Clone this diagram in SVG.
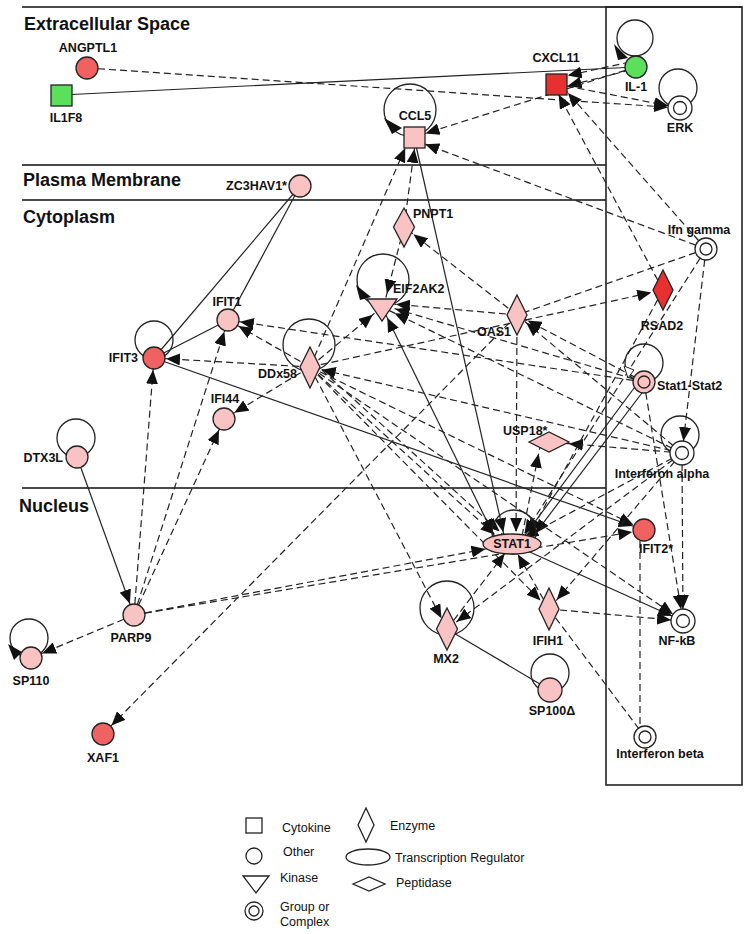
<svg xmlns="http://www.w3.org/2000/svg" width="751" height="934" viewBox="0 0 751 934">
<style>
.sec{stroke:#4a4a4a;stroke-width:2;fill:none}
.hd{font-family:"Liberation Sans",Arial,sans-serif;font-weight:bold;font-size:18px;fill:#111}
.lb{font-family:"Liberation Sans",Arial,sans-serif;font-weight:bold;font-size:12.5px;fill:#111}
.lg{font-family:"Liberation Sans",Arial,sans-serif;font-size:12.5px;fill:#111}
.s{stroke:#222;stroke-width:1.2;fill:none}
.d{stroke:#222;stroke-width:1.2;fill:none;stroke-dasharray:7,4}
.n{stroke:#222;stroke-width:1.3}
.loop{stroke:#222;stroke-width:1.3;fill:none}
.pk{fill:#f9c3c3}.rd{fill:#f06262}.br{fill:#e83030}.gr{fill:#5ce05c}.wh{fill:#fff}
.ah{fill:#111}
</style>
<defs>
<marker id="a" viewBox="0 0 14 12" refX="26" refY="6" markerWidth="14" markerHeight="12" markerUnits="userSpaceOnUse" orient="auto"><path d="M0,0L14,6L0,12z" fill="#111"/></marker>
<marker id="a14" viewBox="0 0 14 12" refX="28" refY="6" markerWidth="14" markerHeight="12" markerUnits="userSpaceOnUse" orient="auto"><path d="M0,0L14,6L0,12z" fill="#111"/></marker>
<marker id="a20" viewBox="0 0 14 12" refX="34" refY="6" markerWidth="14" markerHeight="12" markerUnits="userSpaceOnUse" orient="auto"><path d="M0,0L14,6L0,12z" fill="#111"/></marker>
<marker id="a27" viewBox="0 0 14 12" refX="41" refY="6" markerWidth="14" markerHeight="12" markerUnits="userSpaceOnUse" orient="auto"><path d="M0,0L14,6L0,12z" fill="#111"/></marker>
<marker id="as" viewBox="0 0 14 12" refX="26" refY="6" markerWidth="14" markerHeight="12" markerUnits="userSpaceOnUse" orient="auto-start-reverse"><path d="M0,0L14,6L0,12z" fill="#111"/></marker>
</defs>

<g id="compartments">
<line class="sec" x1="22" y1="7" x2="742" y2="7"/>
<line class="sec" x1="22" y1="165" x2="606" y2="165"/>
<line class="sec" x1="22" y1="200" x2="606" y2="200"/>
<line class="sec" x1="22" y1="488" x2="606" y2="488"/>
<rect x="606" y="7" width="136" height="778" fill="none" stroke="#222" stroke-width="1.6"/>
<text class="hd" x="24" y="30">Extracellular Space</text>
<text class="hd" x="23" y="186">Plasma Membrane</text>
<text class="hd" x="23" y="223">Cytoplasm</text>
<text class="hd" x="19" y="512">Nucleus</text>
</g>

<g id="connectors">
<line class="s" x1="61" y1="95" x2="636" y2="67"/>
<line class="s" x1="300" y1="186" x2="154" y2="358"/>
<line class="s" x1="300" y1="186" x2="228" y2="320"/>
<line class="s" x1="154" y1="358" x2="228" y2="320"/>
<line class="s" x1="154" y1="358" x2="644" y2="530" marker-end="url(#a)"/>
<line class="s" x1="414" y1="137" x2="506" y2="544" marker-end="url(#a)"/>
<line class="s" x1="382" y1="307" x2="498" y2="544" marker-start="url(#as)" marker-end="url(#a)"/>
<line class="s" x1="640" y1="380" x2="520" y2="542" marker-end="url(#a)"/>
<line class="s" x1="648" y1="385" x2="528" y2="543" marker-end="url(#a)"/>
<line class="s" x1="512" y1="544" x2="683" y2="621" marker-end="url(#a)"/>
<line class="s" x1="447" y1="629" x2="550" y2="690"/>
<line class="s" x1="77" y1="457" x2="134" y2="615" marker-end="url(#a)"/>
<line class="d" x1="87" y1="68" x2="680" y2="108" marker-end="url(#a)"/>
<line class="d" x1="556" y1="84" x2="680" y2="108" marker-end="url(#a)"/>
<line class="d" x1="630" y1="62" x2="556" y2="78" marker-end="url(#a)"/>
<line class="d" x1="630" y1="70" x2="556" y2="89" marker-end="url(#a)"/>
<line class="d" x1="636" y1="67" x2="414" y2="137" marker-end="url(#a)"/>
<line class="d" x1="706" y1="249" x2="414" y2="140" marker-end="url(#a)"/>
<line class="d" x1="706" y1="249" x2="560" y2="84" marker-end="url(#a)"/>
<line class="d" x1="663" y1="290" x2="553" y2="84" marker-end="url(#a)"/>
<line class="d" x1="310" y1="367" x2="410" y2="137" marker-end="url(#a)"/>
<line class="d" x1="404" y1="227" x2="416" y2="137" marker-end="url(#a)"/>
<line class="d" x1="404" y1="227" x2="384" y2="305" marker-end="url(#a)"/>
<line class="d" x1="517" y1="315" x2="404" y2="227" marker-end="url(#a)"/>
<line class="d" x1="310" y1="367" x2="382" y2="307" marker-end="url(#a)"/>
<line class="d" x1="644" y1="382" x2="382" y2="305" marker-end="url(#a14)"/>
<line class="d" x1="682" y1="453" x2="382" y2="307" marker-end="url(#a14)"/>
<line class="d" x1="517" y1="315" x2="382" y2="303" marker-end="url(#a14)"/>
<line class="d" x1="310" y1="367" x2="154" y2="358" marker-end="url(#a)"/>
<line class="d" x1="310" y1="367" x2="228" y2="320" marker-end="url(#a)"/>
<line class="d" x1="644" y1="382" x2="228" y2="320" marker-end="url(#a)"/>
<line class="d" x1="310" y1="367" x2="224" y2="419" marker-end="url(#a)"/>
<line class="d" x1="134" y1="615" x2="154" y2="358" marker-end="url(#a)"/>
<line class="d" x1="134" y1="615" x2="228" y2="320" marker-end="url(#a)"/>
<line class="d" x1="134" y1="615" x2="224" y2="419" marker-end="url(#a)"/>
<line class="d" x1="134" y1="615" x2="31" y2="658" marker-end="url(#a)"/>
<line class="d" x1="134" y1="615" x2="512" y2="544" marker-end="url(#a27)"/>
<line class="d" x1="134" y1="615" x2="644" y2="530" marker-end="url(#a)"/>
<line class="d" x1="517" y1="315" x2="103" y2="734" marker-end="url(#a)"/>
<line class="d" x1="682" y1="453" x2="310" y2="367" marker-end="url(#a)"/>
<line class="d" x1="310" y1="367" x2="663" y2="290" marker-end="url(#a)"/>
<line class="d" x1="706" y1="249" x2="517" y2="315"/>
<line class="d" x1="682" y1="453" x2="517" y2="315" marker-end="url(#a)"/>
<line class="d" x1="644" y1="382" x2="517" y2="315" marker-end="url(#a)"/>
<line class="d" x1="517" y1="315" x2="516" y2="544" marker-end="url(#a)"/>
<line class="d" x1="522" y1="536" x2="541" y2="442" marker-end="url(#a)"/>
<line class="d" x1="682" y1="453" x2="549" y2="442" marker-end="url(#a20)"/>
<line class="d" x1="310" y1="367" x2="505" y2="544" marker-end="url(#a14)"/>
<line class="d" x1="314" y1="363" x2="510" y2="541" marker-end="url(#a14)"/>
<line class="d" x1="310" y1="367" x2="447" y2="629" marker-end="url(#a)"/>
<line class="d" x1="310" y1="367" x2="549" y2="609" marker-end="url(#a)"/>
<line class="d" x1="310" y1="367" x2="683" y2="621" marker-end="url(#a)"/>
<line class="d" x1="310" y1="367" x2="644" y2="530" marker-end="url(#a)"/>
<line class="d" x1="682" y1="453" x2="512" y2="544" marker-end="url(#a14)"/>
<line class="d" x1="706" y1="249" x2="518" y2="544" marker-end="url(#a)"/>
<line class="d" x1="663" y1="290" x2="524" y2="544" marker-end="url(#a)"/>
<line class="d" x1="682" y1="453" x2="549" y2="609" marker-end="url(#a)"/>
<line class="d" x1="682" y1="453" x2="447" y2="629" marker-end="url(#a)"/>
<line class="d" x1="447" y1="629" x2="512" y2="544" marker-end="url(#a)"/>
<line class="d" x1="549" y1="609" x2="512" y2="544" marker-end="url(#a)"/>
<line class="d" x1="549" y1="609" x2="683" y2="621" marker-end="url(#a)"/>
<line class="d" x1="549" y1="609" x2="645" y2="737"/>
<line class="d" x1="640" y1="530" x2="640" y2="737"/>
<line class="d" x1="706" y1="249" x2="682" y2="453" marker-end="url(#a)"/>
<line class="d" x1="644" y1="382" x2="683" y2="621" marker-end="url(#a)"/>
<line class="d" x1="682" y1="453" x2="683" y2="621" marker-end="url(#a)"/>
</g>

<g id="loops">
<circle class="loop" cx="635" cy="38" r="18"/><path class="ah" d="M614,44 L628,58 L618,60 Z"/>
<circle class="loop" cx="678" cy="88" r="19"/>
<circle class="loop" cx="410" cy="110" r="26"/><path class="ah" d="M384,118 L402,128 L392,134 Z"/>
<circle class="loop" cx="383" cy="280" r="26"/><path class="ah" d="M356,285 L371,297 L360,300 Z"/>
<circle class="loop" cx="154" cy="340" r="19"/>
<circle class="loop" cx="309" cy="345" r="26"/>
<circle class="loop" cx="76" cy="438" r="19"/>
<circle class="loop" cx="29" cy="638" r="19"/><path class="ah" d="M8,644 L22,652 L14,660 Z"/>
<circle class="loop" cx="644" cy="363" r="19"/><path d="M624,366 L634,370 L628,378 Z" fill="#fff" stroke="#222" stroke-width="1"/>
<circle class="loop" cx="680" cy="435" r="19"/>
<circle class="loop" cx="514" cy="532" r="22"/>
<circle class="loop" cx="447" cy="608" r="27"/>
<circle class="loop" cx="550" cy="673" r="19"/>
</g>

<g id="ANGPTL1"><circle class="n rd" cx="87" cy="68" r="11"/><text class="lb" x="88" y="52" text-anchor="middle">ANGPTL1</text></g>
<g id="IL1F8"><rect class="n gr" x="51" y="85" width="21" height="21"/><text class="lb" x="66" y="122" text-anchor="middle">IL1F8</text></g>
<g id="CXCL11"><rect class="n br" x="546" y="74" width="21" height="21"/><text class="lb" x="556" y="62" text-anchor="middle">CXCL11</text></g>
<g id="IL-1"><circle class="n gr" cx="636" cy="67" r="11"/><text class="lb" x="636" y="91" text-anchor="middle">IL-1</text></g>
<g id="ERK"><circle class="n wh" cx="680" cy="108" r="12"/><circle class="n wh" cx="680" cy="108" r="6.5"/><text class="lb" x="680" y="132" text-anchor="middle">ERK</text></g>
<g id="CCL5"><rect class="n pk" x="404" y="127" width="21" height="21"/><text class="lb" x="415" y="120" text-anchor="middle">CCL5</text></g>
<g id="ZC3HAV1"><circle class="n pk" cx="300" cy="186" r="11"/><text class="lb" x="287" y="190" text-anchor="end">ZC3HAV1*</text></g>
<g id="PNPT1"><path class="n pk" d="M404,208 L414.5,227 L404,247 L393.5,227 Z"/><text class="lb" x="413" y="218">PNPT1</text></g>
<g id="EIF2AK2"><path class="n pk" d="M367,299 L397,299 L382,321 Z"/><text class="lb" x="393" y="293">EIF2AK2</text></g>
<g id="OAS1"><path class="n pk" d="M517,295 L527,315 L517,335 L507,315 Z"/><text class="lb" x="477" y="336">OAS1</text></g>
<g id="RSAD2"><path class="n br" d="M663,270 L673,290 L663,310 L653,290 Z"/><text class="lb" x="662" y="330" text-anchor="middle">RSAD2</text></g>
<g id="Ifn-gamma"><circle class="n wh" cx="706" cy="249" r="11"/><circle class="n wh" cx="706" cy="249" r="6"/><text class="lb" x="699" y="234" text-anchor="middle">Ifn gamma</text></g>
<g id="Stat1-Stat2"><circle class="n pk" cx="644" cy="382" r="11"/><circle class="n pk" cx="644" cy="382" r="6"/><text class="lb" x="657" y="390">Stat1-Stat2</text></g>
<g id="Interferon-alpha"><circle class="n wh" cx="682" cy="453" r="12"/><circle class="n wh" cx="682" cy="453" r="6.5"/><text class="lb" x="662" y="478" text-anchor="middle">Interferon alpha</text></g>
<g id="USP18"><path class="n pk" d="M529,442 L549,432 L569,442 L549,452 Z"/><text class="lb" x="503" y="435">USP18*</text></g>
<g id="IFIT1"><circle class="n pk" cx="228" cy="320" r="11"/><text class="lb" x="227" y="306" text-anchor="middle">IFIT1</text></g>
<g id="IFIT3"><circle class="n rd" cx="154" cy="358" r="11"/><text class="lb" x="138" y="362" text-anchor="end">IFIT3</text></g>
<g id="DDx58"><path class="n pk" d="M310,347 L320,367 L310,388 L300,367 Z"/><text class="lb" x="297" y="378" text-anchor="end">DDx58</text></g>
<g id="IFI44"><circle class="n pk" cx="224" cy="419" r="11"/><text class="lb" x="225" y="403" text-anchor="middle">IFI44</text></g>
<g id="DTX3L"><circle class="n pk" cx="77" cy="457" r="11"/><text class="lb" x="63" y="462" text-anchor="end">DTX3L</text></g>
<g id="PARP9"><circle class="n pk" cx="134" cy="615" r="11"/><text class="lb" x="131" y="642" text-anchor="middle">PARP9</text></g>
<g id="SP110"><circle class="n pk" cx="31" cy="658" r="11"/><text class="lb" x="31" y="685" text-anchor="middle">SP110</text></g>
<g id="XAF1"><circle class="n rd" cx="103" cy="734" r="11"/><text class="lb" x="103" y="762" text-anchor="middle">XAF1</text></g>
<g id="STAT1"><ellipse class="n pk" cx="512" cy="544" rx="29" ry="10"/><text class="lb" x="512" y="548" text-anchor="middle">STAT1</text></g>
<g id="IFIT2"><circle class="n rd" cx="644" cy="530" r="11"/><text class="lb" x="656" y="553" text-anchor="middle">IFIT2*</text></g>
<g id="NF-kB"><circle class="n wh" cx="683" cy="621" r="12"/><circle class="n wh" cx="683" cy="621" r="6.5"/><text class="lb" x="677" y="645" text-anchor="middle">NF-kB</text></g>
<g id="IFIH1"><path class="n pk" d="M549,588 L559,609 L549,630 L539,609 Z"/><text class="lb" x="548" y="645" text-anchor="middle">IFIH1</text></g>
<g id="MX2"><path class="n pk" d="M447,608 L457.5,629 L447,650 L436.5,629 Z"/><text class="lb" x="446" y="663" text-anchor="middle">MX2</text></g>
<g id="SP100"><circle class="n pk" cx="550" cy="690" r="12"/><text class="lb" x="552" y="715" text-anchor="middle">SP100Δ</text></g>
<g id="Interferon-beta"><circle class="n wh" cx="645" cy="737" r="11"/><circle class="n wh" cx="645" cy="737" r="6"/><text class="lb" x="660" y="758" text-anchor="middle">Interferon beta</text></g>

<g id="legend">
<rect x="246" y="818" width="16" height="15" fill="#fff" stroke="#222" stroke-width="1.3"/>
<text class="lg" x="282" y="832">Cytokine</text>
<circle cx="254" cy="856" r="8" fill="#fff" stroke="#222" stroke-width="1.3"/>
<text class="lg" x="283" y="856">Other</text>
<path d="M243,876 L269,876 L256,893 Z" fill="#fff" stroke="#222" stroke-width="1.3"/>
<text class="lg" x="280" y="882">Kinase</text>
<circle cx="254" cy="911" r="9" fill="#fff" stroke="#222" stroke-width="1.3"/>
<circle cx="254" cy="911" r="5" fill="#fff" stroke="#222" stroke-width="1.3"/>
<text class="lg" x="280" y="911">Group or</text>
<text class="lg" x="280" y="926">Complex</text>
<path d="M366,808 L374,825 L366,842 L358,825 Z" fill="#fff" stroke="#222" stroke-width="1.3"/>
<text class="lg" x="390" y="830">Enzyme</text>
<ellipse cx="368" cy="857" rx="22" ry="8" fill="#fff" stroke="#222" stroke-width="1.3"/>
<text class="lg" x="395" y="862">Transcription Regulator</text>
<path d="M353,884 L369,877 L385,884 L369,891 Z" fill="#fff" stroke="#222" stroke-width="1.3"/>
<text class="lg" x="396" y="887">Peptidase</text>
</g>
</svg>
